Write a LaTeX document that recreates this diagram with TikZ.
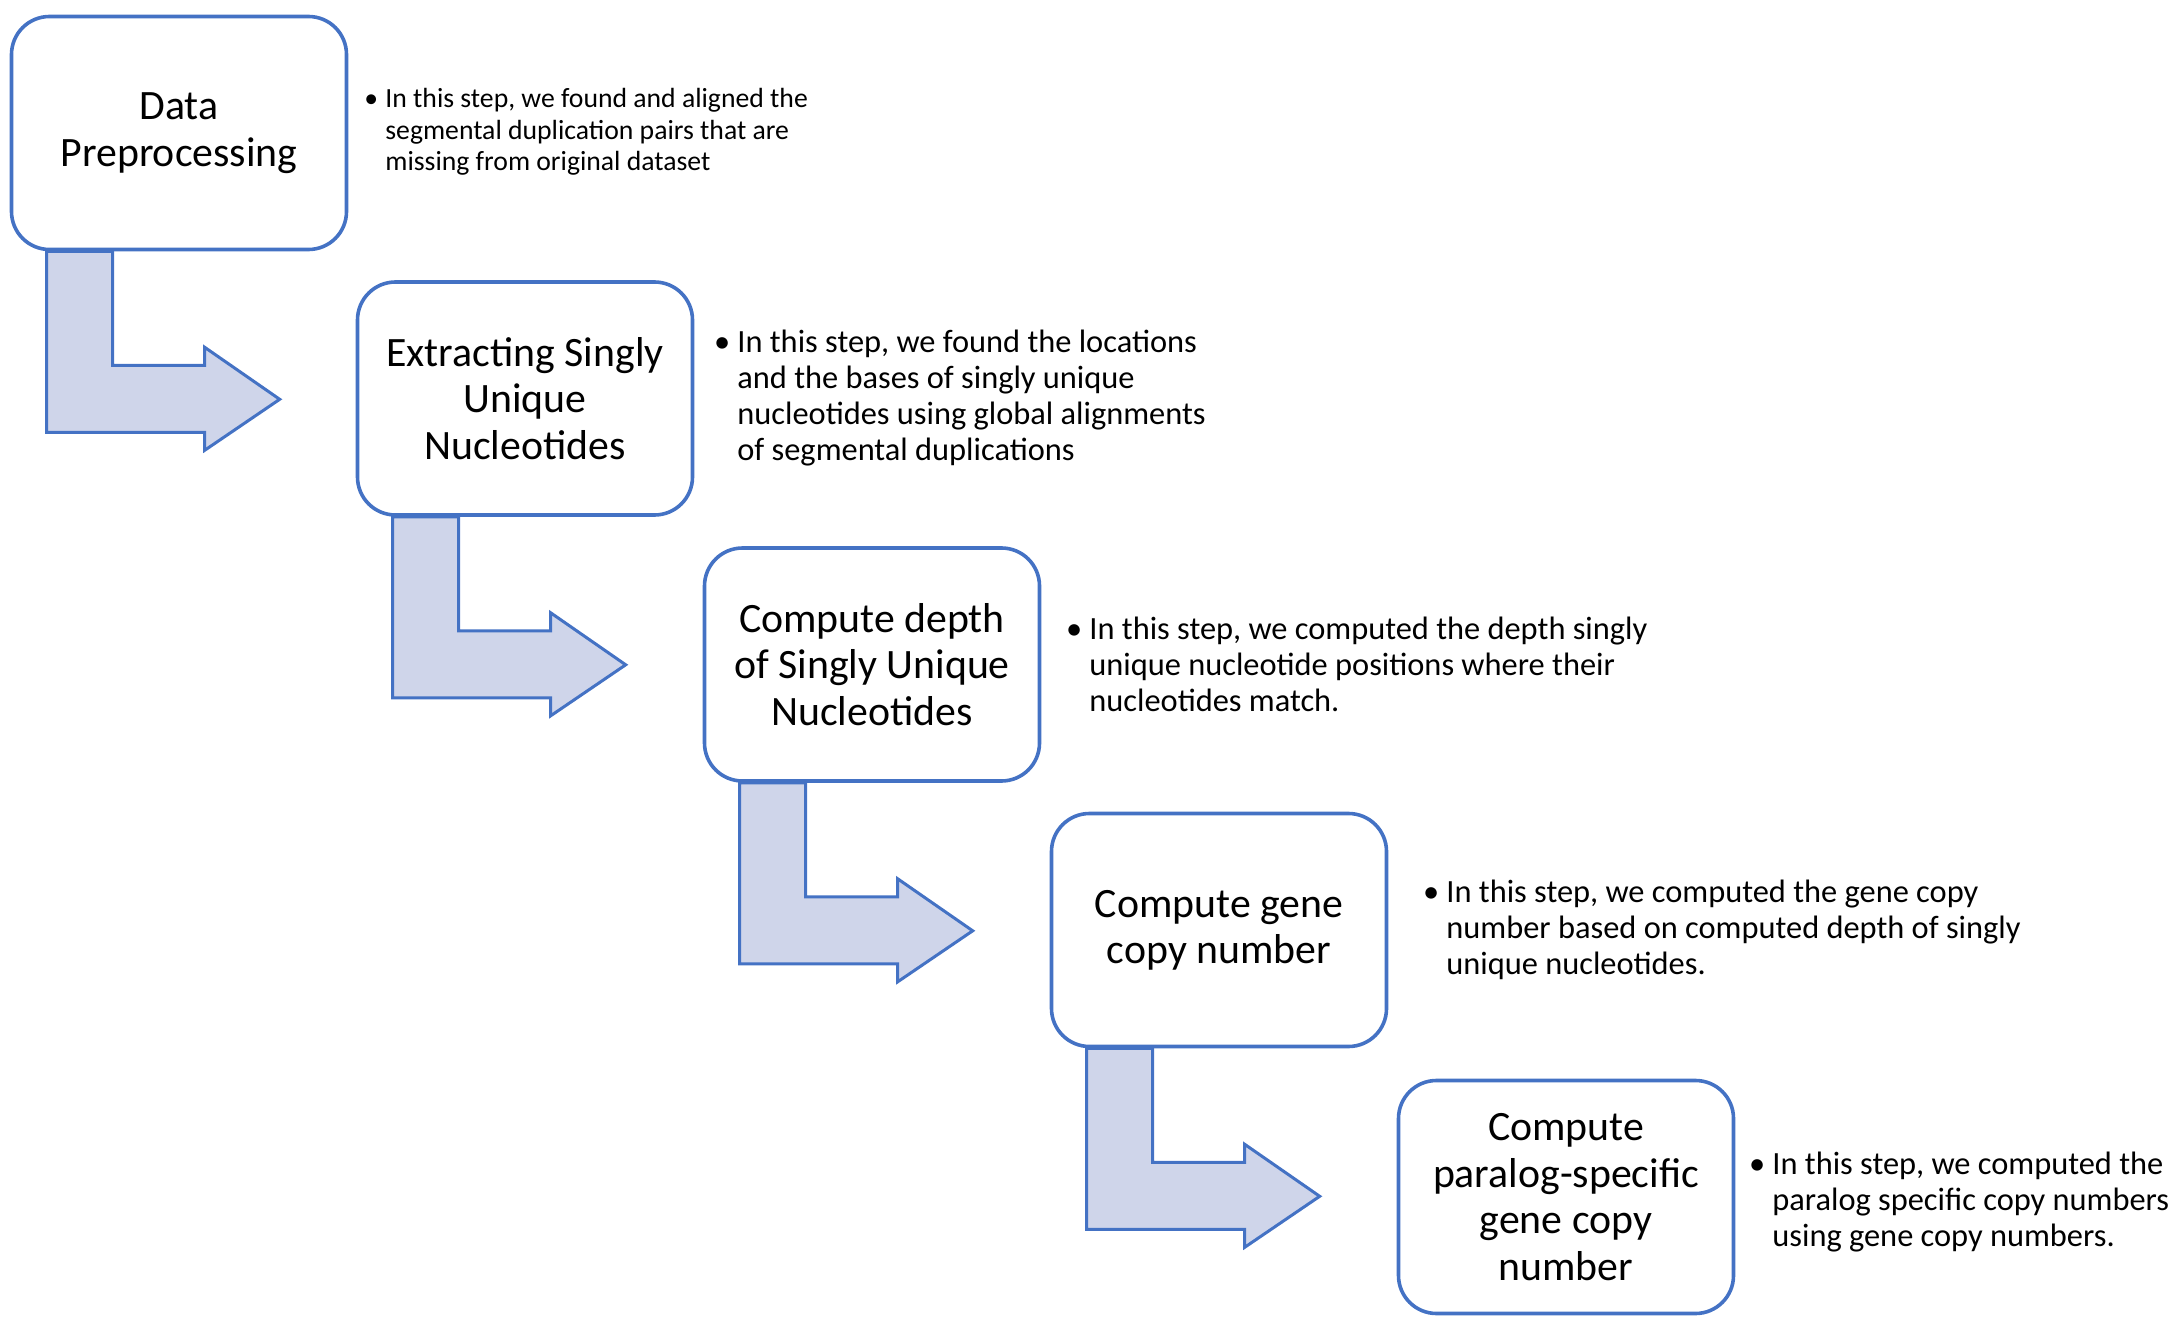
\documentclass[tikz,border=0pt]{standalone}
\usepackage{fontspec}
\setmainfont{Carlito}
\usetikzlibrary{calc,backgrounds}
\definecolor{boxblue}{HTML}{4472C4}
\definecolor{arrowfill}{HTML}{CFD5EA}
\tikzset{
  stepbox/.style={draw=boxblue, line width=1.8pt, fill=white, rounded corners=19pt,
    minimum width=167.5pt, minimum height=116.5pt, align=center, inner sep=0pt,
    font=\fontsize{20.9pt}{23.2pt}\selectfont},
  flowarrow/.style={draw=boxblue, line width=1.5pt, fill=arrowfill, line join=miter},
  descsmall/.style={anchor=west, inner sep=0pt, align=left, font=\fontsize{13.85pt}{15.75pt}\selectfont},
  desclarge/.style={anchor=west, inner sep=0pt, align=left, font=\fontsize{16.2pt}{18pt}\selectfont}
}
\newcommand\steparrow[1]{%
  \draw[flowarrow] ($(#1.south west)+(37,0)$) -- ++(66,0) -- ++(0,114) -- ++(92,0)
    -- ++(0,-18) -- ++(75,52) -- ++(-75,51) -- ++(0,-18) -- ++(-158,0) -- cycle;}
\begin{document}
\begin{tikzpicture}[x=0.5pt,y=-0.5pt]
\useasboundingbox (0,0) rectangle (2180,1332);
\node[stepbox] (b1) at (179,133) {Data\\Preprocessing};
\node[stepbox] (b2) at (525,398.5) {Extracting Singly\\Unique\\Nucleotides};
\node[stepbox] (b3) at (872,664.5) {Compute depth\\of Singly Unique\\Nucleotides};
\node[stepbox] (b4) at (1219,930) {Compute gene\\copy number};
\node[stepbox] (b5) at (1566,1197) {Compute\\paralog-specific\\gene copy\\number};
\begin{scope}[on background layer]
\steparrow{b1}
\steparrow{b2}
\steparrow{b3}
\steparrow{b4}
\end{scope}
\node[descsmall] (t1) at (385,132) {\llap{•\hspace{3.6pt}}In this step, we found and aligned the\\segmental duplication pairs that are\\missing from original dataset};
\node[desclarge] (t2) at (737,398.5) {\llap{•\hspace{3.6pt}}In this step, we found the locations\\and the bases of singly unique\\nucleotides using global alignments\\of segmental duplications};
\node[desclarge] (t3) at (1089,664) {\llap{•\hspace{3.6pt}}In this step, we computed the depth singly\\unique nucleotide positions where their\\nucleotides match.};
\node[desclarge] (t4) at (1446,930) {\llap{•\hspace{3.6pt}}In this step, we computed the gene copy\\number based on computed depth of singly\\unique nucleotides.};
\node[desclarge] (t5) at (1772,1202) {\llap{•\hspace{3.6pt}}In this step, we computed the\\paralog specific copy numbers\\using gene copy numbers.};
\end{tikzpicture}
\end{document}
